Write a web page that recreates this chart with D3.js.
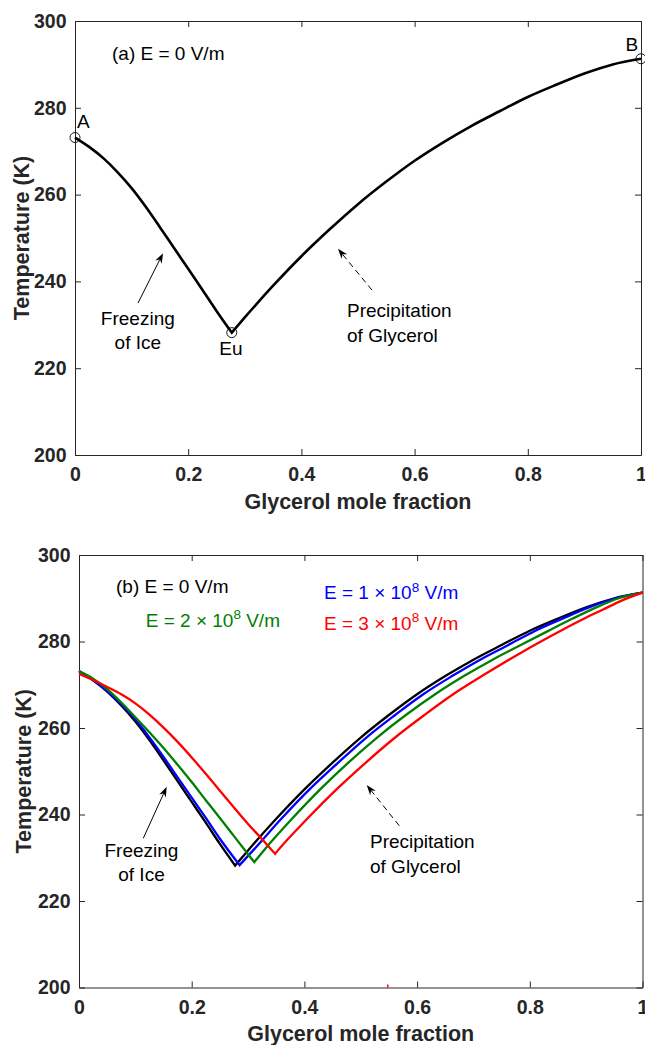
<!DOCTYPE html>
<html>
<head>
<meta charset="utf-8">
<script src="https://cdn.jsdelivr.net/npm/d3@7"></script>
<style>
  html, body { margin: 0; padding: 0; background: #fff; }
  svg { display: block; font-family: "Liberation Sans", Arial, sans-serif; }
</style>
</head>
<body>
<svg id="chart" width="645" height="1045"></svg>
<script>
// ---------- data ----------
const xTicks = [0, 0.2, 0.4, 0.6, 0.8, 1];
const xTickLabels = ["0", "0.2", "0.4", "0.6", "0.8", "1"];
const yTicks = [200, 220, 240, 260, 280, 300];
const yTickLabels = ["200", "220", "240", "260", "280", "300"];

// E = 0 V/m
const blackFreezeX = [0, 0.025, 0.05, 0.075, 0.1, 0.125, 0.15, 0.175, 0.2, 0.225, 0.25, 0.277];
const blackFreezeT = [273.15, 271.0, 268.4, 265.2, 261.5, 257.2, 252.5, 247.7, 242.9, 238.1, 233.2, 228.2];
const blackPrecipX = [0.277, 0.3, 0.35, 0.4, 0.45, 0.5, 0.55, 0.6, 0.65, 0.7, 0.75, 0.8, 0.85, 0.9, 0.95, 1];
const blackPrecipT = [228.2, 231.7, 239.0, 245.8, 252.0, 257.8, 263.0, 267.8, 272.0, 275.8, 279.2, 282.5, 285.3, 287.9, 290.0, 291.3];

// E = 1e8 V/m
const blueFreezeX = [0, 0.025, 0.05, 0.075, 0.1, 0.125, 0.15, 0.175, 0.2, 0.225, 0.25, 0.285];
const blueFreezeT = [273.15, 271.1, 268.6, 265.5, 262.0, 257.8, 253.3, 248.6, 243.9, 239.2, 234.4, 228.3];
const bluePrecipX = [0.285, 0.309, 0.359, 0.409, 0.46, 0.51, 0.561, 0.611, 0.662, 0.712, 0.762, 0.81, 0.858, 0.905, 0.953, 1];
const bluePrecipT = [228.3, 231.7, 239.0, 245.8, 252.0, 257.8, 263.0, 267.8, 272.0, 275.8, 279.2, 282.5, 285.3, 287.9, 290.0, 291.3];

// E = 2e8 V/m
const greenFreezeX = [0, 0.025, 0.05, 0.075, 0.1, 0.125, 0.15, 0.175, 0.2, 0.225, 0.25, 0.275, 0.311];
const greenFreezeT = [273.15, 271.4, 269.0, 265.9, 262.5, 259.0, 255.4, 251.5, 247.5, 243.3, 239.2, 235.0, 229.0];
const greenPrecipX = [0.311, 0.328, 0.378, 0.428, 0.478, 0.529, 0.58, 0.632, 0.683, 0.734, 0.784, 0.832, 0.876, 0.918, 0.958, 1];
const greenPrecipT = [229.0, 231.7, 239.0, 245.8, 252.0, 257.8, 263.0, 267.8, 272.0, 275.8, 279.2, 282.4, 285.3, 287.9, 290.0, 291.3];

// E = 3e8 V/m
const redFreezeX = [0, 0.025, 0.05, 0.075, 0.1, 0.125, 0.15, 0.175, 0.2, 0.225, 0.25, 0.275, 0.3, 0.325, 0.348];
const redFreezeT = [272.5, 271.1, 269.5, 267.8, 265.7, 263.1, 260.1, 256.8, 253.2, 249.4, 245.5, 241.6, 237.8, 234.3, 230.9];
const redPrecipX = [0.348, 0.353, 0.405, 0.457, 0.509, 0.561, 0.613, 0.664, 0.715, 0.766, 0.814, 0.855, 0.895, 0.93, 0.962, 1];
const redPrecipT = [230.9, 231.7, 239.0, 245.8, 252.0, 257.8, 263.0, 267.8, 272.0, 276.0, 279.6, 282.5, 285.2, 287.4, 289.4, 291.3];

// special points (panel a)
const pointNames = ["A", "Eu", "B"];
const pointX = [0, 0.277, 1];
const pointT = [273.15, 228.2, 291.3];

const seriesNames = ["E = 0 V/m", "E = 1 × 10^8 V/m", "E = 2 × 10^8 V/m", "E = 3 × 10^8 V/m"];
const seriesColors = ["#000000", "#0000ff", "#008000", "#ff0000"];

// ---------- helpers ----------
const svg = d3.select("#chart");
const AX = "#262626";
const FONT = 19;
const TICKFONT = 19.5;
const TITLEFONT = 21.5;

function zip(xs, ts) { return xs.map((x, i) => [x, ts[i]]); }

function makePanel(box) {
  const x = d3.scaleLinear().domain([0, 1]).range([box.left, box.right]);
  const y = d3.scaleLinear().domain([200, 300]).range([box.bottom, box.top]);
  const g = svg.append("g");
  return { x, y, g, box };
}

function drawAxes(p) {
  const { x, y, g, box } = p;
  const fmtX = (d, i) => xTickLabels[i];
  const fmtY = (d, i) => yTickLabels[i];
  const mk = (axis, tr) => {
    const a = g.append("g").attr("transform", tr).call(axis);
    a.select(".domain").attr("stroke", AX).attr("stroke-width", 1);
    a.selectAll(".tick line").attr("stroke", AX).attr("stroke-width", 1);
    a.selectAll("text").attr("fill", AX).attr("font-size", TICKFONT).attr("font-weight", "bold")
      .attr("font-family", "'Liberation Sans', Arial, sans-serif");
    return a;
  };
  mk(d3.axisBottom(x).tickValues(xTicks).tickFormat(fmtX).tickSizeInner(-6).tickSizeOuter(0).tickPadding(12.5),
     `translate(0,${box.bottom})`);
  mk(d3.axisTop(x).tickValues(xTicks).tickFormat("").tickSizeInner(-6).tickSizeOuter(0),
     `translate(0,${box.top})`);
  mk(d3.axisLeft(y).tickValues(yTicks).tickFormat(fmtY).tickSizeInner(-6).tickSizeOuter(0).tickPadding(8.5),
     `translate(${box.left},0)`);
  mk(d3.axisRight(y).tickValues(yTicks).tickFormat("").tickSizeInner(-6).tickSizeOuter(0),
     `translate(${box.right},0)`);

  g.append("text")
    .attr("x", (box.left + box.right) / 2).attr("y", box.xTitleY)
    .attr("text-anchor", "middle").attr("font-size", TITLEFONT).attr("font-weight", "bold").attr("fill", AX)
    .text("Glycerol mole fraction");
  g.append("text")
    .attr("transform", `translate(${box.yTitleX},${(box.top + box.bottom) / 2}) rotate(-90)`)
    .attr("text-anchor", "middle").attr("font-size", TITLEFONT).attr("font-weight", "bold").attr("fill", AX)
    .text("Temperature (K)");
}

function branchPath(p, xs, ts) {
  const line = d3.line().x(d => p.x(d[0])).y(d => p.y(d[1])).curve(d3.curveMonotoneX);
  return line(zip(xs, ts));
}
function drawSeries(p, fx, ft, px, pt, color, width) {
  const a = branchPath(p, fx, ft);
  const b = branchPath(p, px, pt).replace(/^M[^CLQ]*/, "");
  p.g.append("path").attr("d", a + b)
    .attr("fill", "none").attr("stroke", color).attr("stroke-width", width)
    .attr("stroke-linejoin", "miter").attr("stroke-miterlimit", 20);
}

function arrow(p, x0, t0, x1, t1, dashed) {
  const X0 = p.x(x0), Y0 = p.y(t0), X1 = p.x(x1), Y1 = p.y(t1);
  const ang = Math.atan2(Y1 - Y0, X1 - X0);
  const L = 10, W = 3.6, N = 7;
  const ux = Math.cos(ang), uy = Math.sin(ang);
  const nx = -uy, ny = ux;
  p.g.append("line")
    .attr("x1", X0).attr("y1", Y0).attr("x2", X1 - ux * N).attr("y2", Y1 - uy * N)
    .attr("stroke", "#000").attr("stroke-width", 1)
    .attr("stroke-dasharray", dashed ? "6,4" : null);
  const pts = [
    [X1, Y1],
    [X1 - ux * L + nx * W, Y1 - uy * L + ny * W],
    [X1 - ux * N, Y1 - uy * N],
    [X1 - ux * L - nx * W, Y1 - uy * L - ny * W]
  ];
  p.g.append("path").attr("d", "M" + pts.map(q => q.join(",")).join("L") + "Z").attr("fill", "#000");
}

function label(p, x, t, txt, anchor, color) {
  return p.g.append("text").attr("x", p.x(x)).attr("y", p.y(t))
    .attr("text-anchor", anchor || "start").attr("font-size", FONT).attr("fill", color || "#000")
    .text(txt);
}
function labelE(p, x, t, mant, color) {
  const el = p.g.append("text").attr("x", p.x(x)).attr("y", p.y(t))
    .attr("font-size", FONT).attr("fill", color);
  el.append("tspan").text(`E = ${mant} × 10`);
  el.append("tspan").attr("dy", -7.5).attr("font-size", 13.5).text("8");
  el.append("tspan").attr("dy", 7.5).text(" V/m");
}

// ---------- panel (a) ----------
const pa = makePanel({ left: 75, right: 641, top: 21, bottom: 455, xTitleY: 509, yTitleX: 29 });
drawAxes(pa);
drawSeries(pa, blackFreezeX, blackFreezeT, blackPrecipX, blackPrecipT, "#000", 2.6);
pa.g.selectAll("circle.pt").data(pointX.map((x, i) => [x, pointT[i]])).enter()
  .append("circle").attr("class", "pt")
  .attr("cx", d => pa.x(d[0])).attr("cy", d => pa.y(d[1])).attr("r", 5)
  .attr("fill", "none").attr("stroke", "#000").attr("stroke-width", 0.9);
label(pa, 0.0654, 291.0, "(a) E = 0 V/m");
label(pa, 0.0035, 275.3, pointNames[0]);
label(pa, 0.2756, 223.0, pointNames[1], "middle");
label(pa, 0.995, 293.1, pointNames[2], "end");
label(pa, 0.111, 230.0, "Freezing", "middle");
label(pa, 0.111, 224.4, "of Ice", "middle");
label(pa, 0.4806, 231.8, "Precipitation");
label(pa, 0.4806, 226.0, "of Glycerol");
arrow(pa, 0.1113, 235.0, 0.1555, 246.5, false);
arrow(pa, 0.5247, 238.0, 0.4647, 247.5, true);

// ---------- panel (b) ----------
const pb = makePanel({ left: 79, right: 642.5, top: 555, bottom: 987.5, xTitleY: 1041, yTitleX: 31 });
drawAxes(pb);
drawSeries(pb, blackFreezeX, blackFreezeT, blackPrecipX, blackPrecipT, seriesColors[0], 2.3);
drawSeries(pb, blueFreezeX, blueFreezeT, bluePrecipX, bluePrecipT, seriesColors[1], 2.3);
drawSeries(pb, greenFreezeX, greenFreezeT, greenPrecipX, greenPrecipT, seriesColors[2], 2.3);
drawSeries(pb, redFreezeX, redFreezeT, redPrecipX, redPrecipT, seriesColors[3], 2.3);
label(pb, 0.0657, 291.2, "(b) " + seriesNames[0], "start", seriesColors[0]);
labelE(pb, 0.4348, 289.8, 1, seriesColors[1]);
labelE(pb, 0.1184, 283.4, 2, seriesColors[2]);
labelE(pb, 0.4348, 282.7, 3, seriesColors[3]);
label(pb, 0.1109, 230.2, "Freezing", "middle");
label(pb, 0.1109, 224.7, "of Ice", "middle");
label(pb, 0.5164, 232.2, "Precipitation");
label(pb, 0.5164, 226.4, "of Glycerol");
arrow(pb, 0.1141, 234.5, 0.1556, 246.4, false);
arrow(pb, 0.5684, 237.4, 0.5106, 246.8, true);
// small red stray mark on the bottom axis
pb.g.append("line").attr("x1", pb.x(0.548)).attr("x2", pb.x(0.548))
  .attr("y1", pb.y(200)).attr("y2", pb.y(200.7)).attr("stroke", "#ff0000").attr("stroke-width", 1.5);
</script>
</body>
</html>
